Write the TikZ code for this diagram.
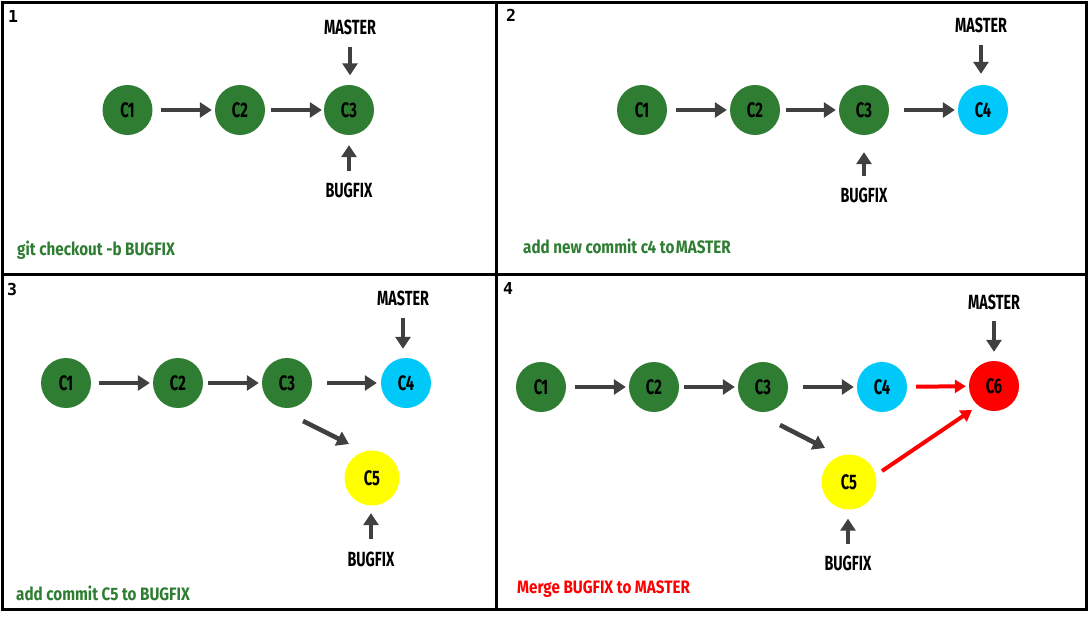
\documentclass[tikz,border=0pt]{standalone}
\usepackage{fontspec}
\setmainfont{Fira Sans}[FakeStretch=0.7]
\newfontfamily\capfont{Fira Sans}[FakeStretch=0.845]
\newfontfamily\numfont{DejaVu Sans Mono}
\usetikzlibrary{arrows.meta}
\definecolor{cgreen}{RGB}{46,125,50}
\definecolor{ccyan}{RGB}{0,200,248}
\definecolor{cyell}{RGB}{255,255,0}
\definecolor{cred}{RGB}{255,0,0}
\definecolor{cgrey}{RGB}{64,64,64}
\begin{document}
\begin{tikzpicture}[x=1pt,y=-1pt,
  commit/.style={circle,minimum size=50pt,inner sep=0pt,text=black,
    font=\fontsize{21}{21}\selectfont\bfseries},
  big/.style={minimum size=55pt},
  gc/.style={commit,fill=cgreen},
  cc/.style={commit,fill=ccyan},
  yc/.style={commit,big,fill=cyell},
  rc/.style={commit,fill=cred},
  tag/.style={inner sep=0pt,font=\fontsize{20.5}{20.5}\selectfont\bfseries},
  caption/.style={inner sep=0pt,anchor=base west,font=\fontsize{18}{18}\capfont\bfseries},
  pnum/.style={inner sep=0pt,font=\fontsize{16.5}{16.5}\numfont\bfseries},
  arr/.style={draw=cgrey,line width=4.6pt,-{Triangle[length=12pt,width=15pt]},
    shorten <=8pt,shorten >=3pt},
  rarr/.style={draw=cred,line width=4pt,-{Triangle[length=11pt,width=13pt]},
    shorten <=9pt,shorten >=3pt},
  frame/.style={line width=3pt,draw=black}
]
\useasboundingbox (0,0) rectangle (1090,616);
\fill[white] (0,0) rectangle (1090,616);
% frames
\draw[frame] (2,2) rectangle (1086,609);
\draw[frame] (496,2) -- (496,609);
\draw[frame] (2,274) -- (1086,274);

% ---------- panel 1
\node[pnum] (p1n) at (13,16) {1};
\node[gc] (p1c1) at (127.5,110) {C1};
\node[gc] (p1c2) at (240,110) {C2};
\node[gc] (p1c3) at (349,110) {C3};
\node[tag] (p1m) at (350,27) {MASTER};
\node[tag] (p1b) at (349,190) {BUGFIX};
\draw[arr] (p1c1) -- (p1c2);
\draw[arr,shorten <=6pt,shorten >=2pt] (p1c2) -- (p1c3);
\draw[arr,shorten <=12.5pt,shorten >=9.5pt] (p1m.south) -- (p1m.south |- p1c3.north);
\draw[arr,shorten <=11.5pt,shorten >=10pt] (p1b.north) -- (p1b.north |- p1c3.south);
\node[caption,text=cgreen] (p1t) at (17,255) {git checkout -b BUGFIX};

% ---------- panel 2
\node[pnum] (p2n) at (511,15) {2};
\node[gc] (p2c1) at (642,110) {C1};
\node[gc] (p2c2) at (755,110) {C2};
\node[gc] (p2c3) at (864,110) {C3};
\node[cc] (p2c4) at (983,110) {C4};
\node[tag] (p2m) at (981,25) {MASTER};
\node[tag] (p2b) at (864,195) {BUGFIX};
\draw[arr,shorten <=9pt] (p2c1) -- (p2c2);
\draw[arr,shorten <=6pt] (p2c2) -- (p2c3);
\draw[arr,shorten <=15pt] (p2c3) -- (p2c4);
\draw[arr,shorten <=12.5pt,shorten >=11pt] (p2m.south) -- (p2m.south |- p2c4.north);
\draw[arr,shorten <=11.5pt,shorten >=17pt] (p2b.north) -- (p2b.north |- p2c3.south);
\node[caption,text=cgreen] (p2t) at (523,253) {add new commit c4 to\kern1.5pt MASTER};

% ---------- panel 3
\node[pnum] (p3n) at (12,289) {3};
\node[gc] (p3c1) at (66,383) {C1};
\node[gc] (p3c2) at (178,383) {C2};
\node[gc] (p3c3) at (287,383) {C3};
\node[cc] (p3c4) at (406,383) {C4};
\node[yc] (p3c5) at (372,478) {C5};
\node[tag] (p3m) at (403,298) {MASTER};
\node[tag] (p3b) at (371,559) {BUGFIX};
\coordinate (p3a) at (303,421);
\coordinate (p3z) at (349,444);
\draw[arr] (p3c1) -- (p3c2);
\draw[arr,shorten <=5pt] (p3c2) -- (p3c3);
\draw[arr,shorten <=15pt,shorten >=4pt] (p3c3) -- (p3c4);
\draw[arr,shorten <=0pt,shorten >=0pt] (p3a) -- (p3z);
\draw[arr,shorten <=12.5pt,shorten >=9pt] (p3m.south) -- (p3m.south |- p3c4.north);
\draw[arr,shorten <=12.5pt,shorten >=7.5pt] (p3b.north) -- (p3b.north |- p3c5.south);
\node[caption,text=cgreen] (p3t) at (16,600) {add commit C5 to BUGFIX};

% ---------- panel 4
\node[pnum] (p4n) at (508,288) {4};
\node[gc] (p4c1) at (541,387) {C1};
\node[gc] (p4c2) at (654,387) {C2};
\node[gc] (p4c3) at (763,387) {C3};
\node[cc] (p4c4) at (882,387) {C4};
\node[yc] (p4c5) at (849,482) {C5};
\node[rc] (p4c6) at (994,386) {C6};
\node[tag] (p4m) at (994,302) {MASTER};
\node[tag] (p4b) at (848,563) {BUGFIX};
\coordinate (p4a) at (780,425);
\coordinate (p4z) at (825,448);
\coordinate (p4r1) at (882,471);
\coordinate (p4r2) at (972,410);
\draw[arr,shorten <=9pt] (p4c1) -- (p4c2);
\draw[arr,shorten <=5pt] (p4c2) -- (p4c3);
\draw[arr,shorten <=15pt] (p4c3) -- (p4c4);
\draw[arr,shorten <=0pt,shorten >=0pt] (p4a) -- (p4z);
\draw[rarr] (p4c4) -- (p4c6);
\draw[rarr,shorten <=0pt,shorten >=0pt] (p4r1) -- (p4r2);
\draw[arr,shorten <=11.5pt,shorten >=9pt] (p4m.south) -- (p4m.south |- p4c6.north);
\draw[arr,shorten <=11.5pt,shorten >=9pt] (p4b.north) -- (p4b.north |- p4c5.south);
\node[caption,text=cred] (p4t) at (517,593) {Merge BUGFIX to MASTER};
\end{tikzpicture}
\end{document}
